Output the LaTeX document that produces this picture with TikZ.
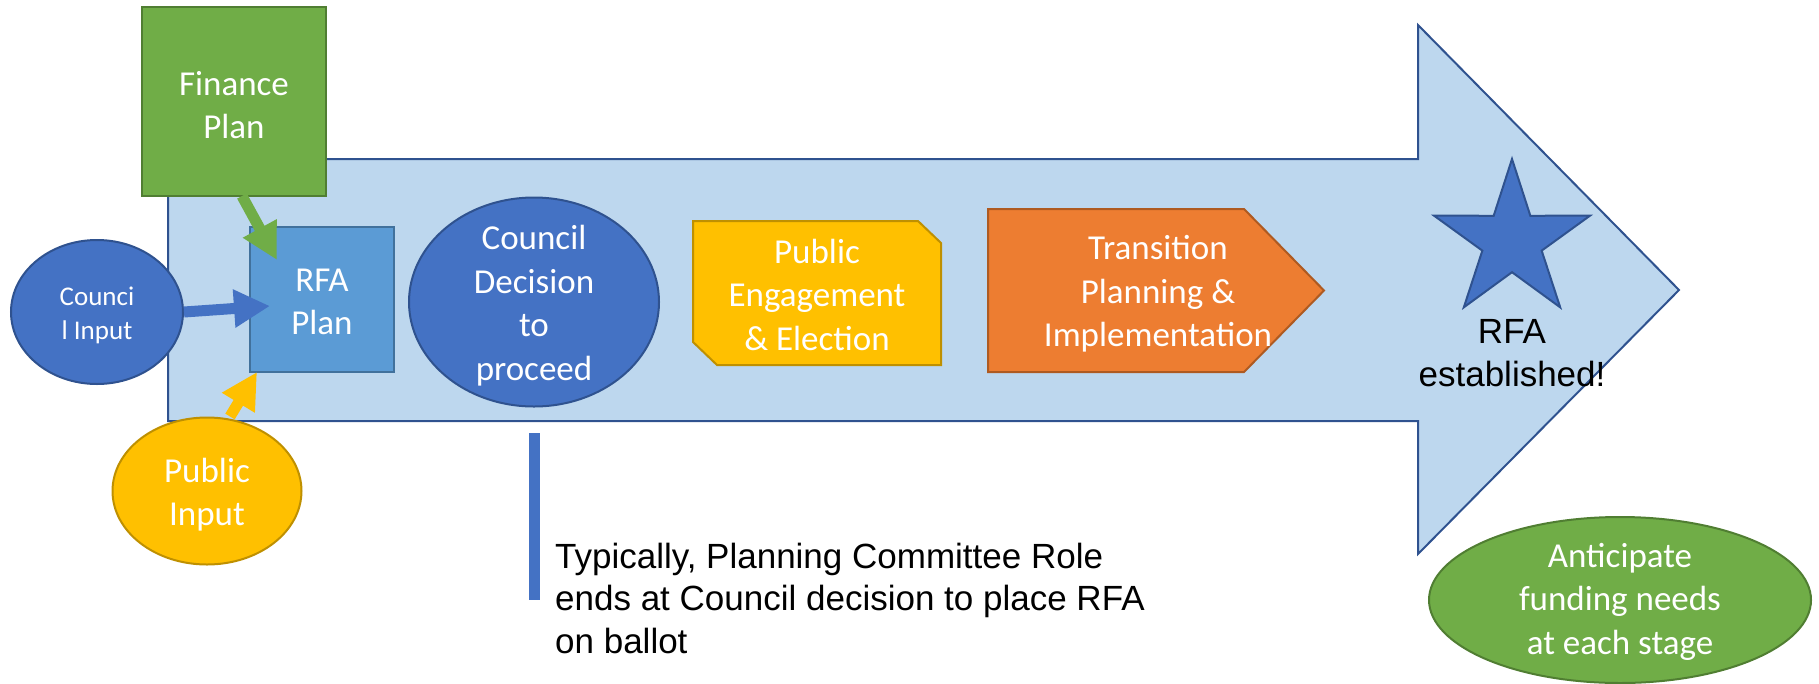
\documentclass[tikz,border=0pt]{standalone}
\usepackage{fontspec}
\setmainfont{Carlito}
\newfontfamily\arialfont{Liberation Sans}
\usetikzlibrary{shapes.geometric,arrows.meta}
\pgfdeclarelayer{bg}
\pgfsetlayers{bg,main}
\definecolor{bigfill}{HTML}{BDD7EE}
\definecolor{bigline}{HTML}{2F528F}
\definecolor{gfill}{HTML}{70AD47}
\definecolor{gline}{HTML}{507E32}
\definecolor{bfill}{HTML}{4472C4}
\definecolor{bline}{HTML}{2F528F}
\definecolor{lbfill}{HTML}{5B9BD5}
\definecolor{lbline}{HTML}{41719C}
\definecolor{yfill}{HTML}{FFC000}
\definecolor{yline}{HTML}{BF9000}
\definecolor{ofill}{HTML}{ED7D31}
\definecolor{oline}{HTML}{AE5A21}
\begin{document}
\begin{tikzpicture}[x=1pt,y=-1pt,
  wl/.style={text=white, font=\fontsize{35}{43.5}\selectfont, align=center, inner sep=0pt, yshift=-3.5pt},
  gshape/.style={fill=gfill, draw=gline, line width=2pt},
  bshape/.style={fill=bfill, draw=bline, line width=2pt},
  lbshape/.style={fill=lbfill, draw=lbline, line width=2pt},
  yshape/.style={fill=yfill, draw=yline, line width=2pt},
  oshape/.style={fill=ofill, draw=oline, line width=2pt},
  oval/.style={ellipse, inner sep=0pt},
  box/.style={rectangle, inner sep=0pt, outer sep=0pt},
  fat/.style={line width=11pt, draw=#1, -{Triangle[length=36pt,width=36pt]}},
  blk/.style={text=black, font=\arialfont\fontsize{35}{43}\selectfont, inner sep=0pt}
]
\useasboundingbox (0,0) rectangle (1819,683);

\begin{pgfonlayer}{bg}
\draw[fill=bigfill, draw=bigline, line width=2pt]
  (168,159) -- (1418,159) -- (1418,25) -- (1679,290) -- (1418,554) -- (1418,421) -- (168,421) -- cycle;
\end{pgfonlayer}

\node[box, gshape, minimum width=184pt, minimum height=189pt,
  label={[wl]center:{Finance\\Plan}}] (fin) at (234,101.5) {};
\node[box, lbshape, minimum width=144pt, minimum height=145pt,
  label={[wl, yshift=1pt]center:{RFA\\Plan}}] (rfa) at (322,299.5) {};
\node[oval, bshape, minimum width=172pt, minimum height=144pt,
  label={[wl, font=\fontsize{27}{34}\selectfont]center:{Counci\\l Input}}] (ci) at (97,312) {};
\node[oval, yshape, minimum width=189pt, minimum height=147pt,
  label={[wl]center:{Public\\Input}}] (pi) at (207,491) {};
\node[oval, bshape, minimum width=250pt, minimum height=209pt,
  label={[wl]center:{Council\\Decision\\to\\proceed}}] (cd) at (534,302) {};

\node[box, minimum width=248pt, minimum height=144pt,
  label={[wl, yshift=2pt]center:{Public\\Engagement\\\& Election}}] (pe) at (817,293) {};
\node[box, minimum width=336pt, minimum height=163pt,
  label={[wl, xshift=2pt]center:{Transition\\Planning \&\\Implementation}}] (tr) at (1156,290.5) {};
\begin{pgfonlayer}{bg}
\draw[yshape] (pe.north west) -- ([xshift=-23pt]pe.north east) -- ([yshift=-22pt]pe.north east)
  -- (pe.south east) -- ([xshift=24pt]pe.south west) -- ([yshift=23pt]pe.south west) -- cycle;
\draw[oshape] (tr.north west) -- ([xshift=-80pt]tr.north east) -- (tr.east)
  -- ([xshift=-80pt]tr.south east) -- (tr.south west) -- cycle;
\end{pgfonlayer}

\node[star, star points=5, star point ratio=2.63, bshape, minimum size=164pt, inner sep=0pt] (st) at (1512,241) {};
\node[blk, align=center] (est) at (1512,353) {RFA\\established!};

\node[oval, gshape, minimum width=382pt, minimum height=166pt,
  label={[wl, yshift=2pt]center:{Anticipate\\funding needs\\at each stage}}] (ant) at (1620,600) {};

\node[fill=bfill, minimum width=11pt, minimum height=167pt, inner sep=0pt] (bar) at (534,516.5) {};
\node[blk, align=left, anchor=west, font=\arialfont\fontsize{35}{42.5}\selectfont] (note) at (555,598)
  {Typically, Planning Committee Role\\ends at Council decision to place RFA\\on ballot};

\draw[fat=gfill] ([shift={(8,0)}]fin.south) -- ([shift={(27,33)}]rfa.north west);
\draw[fat=bfill] (ci.east) -- ([shift={(20,6.5)}]rfa.west);
\draw[fat=yfill] ([shift={(23,0)}]pi.north) -- ([shift={(7,0)}]rfa.south west);
\end{tikzpicture}
\end{document}
